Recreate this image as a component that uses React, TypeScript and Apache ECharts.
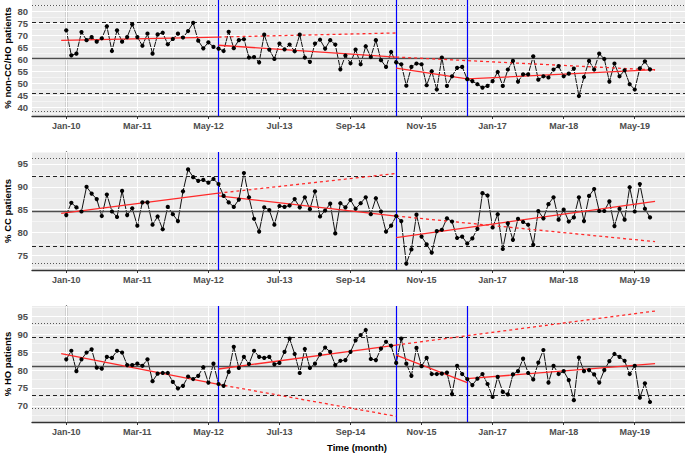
import React, { useEffect, useRef } from 'react';
import * as echarts from 'echarts';

// Month index: 0 = Jan-10
const tickMonths = [0, 14, 28, 42, 56, 70, 84, 98, 112];
const tickLabels = ['Jan-10', 'Mar-11', 'May-12', 'Jul-13', 'Sep-14', 'Nov-15', 'Jan-17', 'Mar-18', 'May-19'];
const minorXGrid = [7, 21, 35, 49, 63, 77, 91, 105, 119];

const breaksA = [30, 65, 79];
const breaksB = [30, 65];

const nonCC = [
  72.1, 61.7, 62.4, 71.4, 68.0, 69.3, 67.4, 68.8, 73.8, 63.5,
  72.1, 67.4, 69.3, 74.6, 69.3, 65.7, 70.7, 62.4, 70.4, 71.1,
  66.3, 68.5, 70.7, 69.1, 71.8, 75.2, 67.8, 64.6, 67.1, 65.2,
  64.5, 63.5, 71.5, 64.7, 68.0, 68.4, 60.8, 61.0, 58.8, 70.3,
  64.1, 60.2, 66.6, 64.2, 66.2, 63.4, 70.3, 60.8, 59.0, 66.6,
  68.2, 64.5, 68.0, 66.2, 55.9, 61.6, 58.4, 64.1, 58.0, 65.5,
  61.0, 68.0, 59.7, 56.9, 63.1, 58.8, 58.0, 49.1, 56.9, 58.3,
  58.0, 49.3, 55.1, 47.5, 60.8, 49.0, 53.0, 56.5, 56.9, 51.8,
  51.0, 49.7, 48.3, 49.0, 51.0, 54.8, 49.0, 55.8, 59.4, 50.8,
  53.8, 53.8, 61.3, 51.6, 53.0, 52.5, 55.8, 57.2, 53.0, 54.1,
  56.2, 44.8, 52.7, 59.4, 55.8, 62.4, 60.2, 50.8, 58.3, 53.0,
  55.5, 49.7, 47.5, 56.3, 59.2, 55.9,
];

const cc = [
  83.8, 86.5, 85.5, 84.6, 90.0, 88.5, 87.3, 83.6, 88.3, 84.6,
  83.4, 89.1, 83.8, 85.3, 81.5, 86.6, 86.6, 81.7, 83.5, 80.7,
  85.6, 84.0, 82.5, 89.0, 93.8, 92.1, 91.3, 91.5, 90.9, 91.7,
  90.6, 88.0, 86.6, 85.6, 87.2, 93.0, 87.7, 83.0, 80.2, 85.5,
  84.9, 81.7, 85.8, 85.6, 85.9, 87.3, 85.5, 87.7, 85.1, 89.0,
  83.5, 84.8, 86.3, 79.8, 86.4, 85.5, 87.1, 85.2, 86.4, 87.7,
  84.0, 87.5, 84.6, 80.2, 81.5, 83.6, 82.5, 73.2, 76.3, 83.9,
  79.1, 77.4, 75.6, 80.3, 80.6, 83.1, 82.4, 78.8, 79.1, 77.6,
  78.7, 80.8, 88.6, 88.1, 81.1, 84.0, 76.4, 82.0, 78.4, 83.0,
  82.3, 81.7, 77.3, 84.7, 83.1, 86.2, 87.7, 82.8, 85.0, 82.4,
  83.3, 87.7, 82.5, 88.0, 89.5, 84.7, 84.7, 86.8, 81.4, 85.2,
  82.8, 89.9, 84.6, 90.6, 85.2, 83.3,
];

const ho = [
  83.0, 85.4, 79.7, 83.0, 84.9, 85.8, 80.7, 80.4, 83.7, 83.4,
  85.4, 84.9, 81.4, 81.4, 81.8, 81.2, 83.0, 76.9, 79.0, 79.2,
  79.2, 76.7, 74.9, 75.6, 78.2, 77.5, 78.4, 80.8, 76.5, 81.8,
  76.1, 75.6, 79.5, 86.5, 80.6, 83.7, 81.7, 85.4, 83.7, 83.4,
  83.7, 81.6, 82.0, 85.1, 88.8, 84.5, 79.2, 85.9, 80.6, 81.8,
  84.4, 86.3, 85.1, 81.4, 82.6, 82.8, 85.1, 88.3, 89.8, 91.2,
  83.1, 82.8, 86.0, 87.9, 86.8, 82.0, 88.8, 81.8, 78.4, 86.2,
  81.1, 83.4, 78.9, 78.9, 79.0, 79.3, 73.3, 81.2, 78.9, 77.5,
  75.8, 77.6, 78.9, 76.1, 72.5, 78.1, 73.9, 73.2, 78.8, 79.7,
  83.2, 79.2, 77.4, 82.1, 85.6, 76.5, 81.2, 78.9, 79.7, 77.2,
  71.6, 83.5, 79.7, 80.0, 78.8, 76.5, 80.0, 82.5, 84.5, 83.7,
  82.6, 78.9, 81.2, 72.3, 76.3, 71.1,
];

// [centre, upper 2sd, lower 2sd, upper 3sd, lower 3sd]
const nonCCRefs = [60.6, 75.3, 45.9, 82.6, 38.6];
const ccRefs = [84.7, 92.3, 77.0, 96.2, 73.2];
const hoRefs = [81.2, 89.1, 73.1, 93.0, 69.3];

// fitted segments (solid) and projections (dashed): [[x0,y0],[x1,y1]]
const nonCCFits = [
  [[-1, 67.9], [30, 69.3]],
  [[30, 65.9], [65, 61.0]],
  [[65, 56.4], [79, 51.9]],
  [[79, 51.9], [116, 55.8]],
];
const nonCCProj = [
  [[30, 69.3], [65, 71.0]],
  [[65, 61.0], [116, 55.6]],
];
const ccFits = [
  [[-1, 84.2], [30, 88.6]],
  [[30, 88.0], [65, 83.6]],
  [[65, 78.9], [116, 86.8]],
];
const ccProj = [
  [[30, 88.6], [65, 92.9]],
  [[65, 83.6], [116, 78.0]],
];
const hoFits = [
  [[-1, 84.6], [30, 76.0]],
  [[30, 80.3], [65, 87.0]],
  [[65, 84.2], [79, 76.5]],
  [[79, 77.6], [116, 81.8]],
];
const hoProj = [
  [[30, 76.0], [65, 67.1]],
  [[65, 87.0], [116, 96.5]],
];

const nonCCTicks = [40, 45, 50, 55, 60, 65, 70, 75, 80];
const ccTicks = [75, 80, 85, 90, 95];
const hoTicks = [70, 75, 80, 85, 90, 95];

const FONT = 'Liberation Sans, Arial, sans-serif';

export default function App() {
  const ref = useRef<HTMLDivElement>(null);
  useEffect(() => {
    document.body.style.margin = '0';
    const chart = echarts.init(ref.current!, null, { renderer: 'svg' });

    const panels = [
      { top: 0, height: 116, yMin: 36.5, yMax: 84.7, data: nonCC, refs: nonCCRefs, fits: nonCCFits, proj: nonCCProj, breaks: breaksA, ticks: nonCCTicks, title: '% non-CC/HO patients' },
      { top: 152, height: 118, yMin: 71.8, yMax: 97.6, data: cc, refs: ccRefs, fits: ccFits, proj: ccProj, breaks: breaksB, ticks: ccTicks, title: '% CC patients' },
      { top: 306, height: 116, yMin: 65.5, yMax: 97.9, data: ho, refs: hoRefs, fits: hoFits, proj: hoProj, breaks: breaksA, ticks: hoTicks, title: '% HO patients' },
    ];

    const grids: any[] = [];
    const xAxes: any[] = [];
    const yAxes: any[] = [];
    const series: any[] = [];
    const graphics: any[] = [];
    const noLabel = { show: false };

    panels.forEach((p, i) => {
      grids.push({
        left: 32, right: 0, top: p.top, height: p.height,
        show: true, backgroundColor: '#EBEBEB', borderWidth: 0,
      });
      xAxes.push({
        type: 'value', gridIndex: i, min: -6.75, max: 121.9,
        axisLine: { show: true, onZero: false, lineStyle: { color: '#333', width: 1.3 } },
        axisTick: { show: true, length: 3, customValues: tickMonths, lineStyle: { color: '#333' } },
        axisLabel: {
          customValues: tickMonths, margin: 5,
          formatter: (v: number) => tickLabels[tickMonths.indexOf(v)] ?? '',
          color: '#4D4D4D', fontSize: 9, fontWeight: 'bold', fontFamily: FONT,
        },
        splitLine: { show: false },
      });
      yAxes.push({
        type: 'value', gridIndex: i, min: p.yMin, max: p.yMax,
        axisLine: { show: true, lineStyle: { color: '#333', width: 1.3 } },
        axisTick: { show: true, length: 3, customValues: p.ticks, lineStyle: { color: '#333' } },
        axisLabel: {
          customValues: p.ticks, margin: 4,
          color: '#4D4D4D', fontSize: 9.5, fontWeight: 'bold', fontFamily: FONT,
        },
        splitLine: { show: false },
      });

      // background grid lines
      const gridItems: any[] = [];
      const start = Math.ceil(p.yMin / 2.5) * 2.5;
      for (let v = start; v <= p.yMax; v += 2.5) {
        const major = Math.abs(v / 5 - Math.round(v / 5)) < 1e-6;
        gridItems.push({ yAxis: v, lineStyle: { color: '#FFFFFF', width: major ? 1.1 : 0.5, type: 'solid' } });
      }
      tickMonths.forEach((m) => gridItems.push({ xAxis: m, lineStyle: { color: '#FFFFFF', width: 1.1, type: 'solid' } }));
      minorXGrid.forEach((m) => gridItems.push({ xAxis: m, lineStyle: { color: '#FFFFFF', width: 0.5, type: 'solid' } }));
      series.push({
        type: 'line', xAxisIndex: i, yAxisIndex: i, data: [], z: 1, silent: true,
        markLine: { silent: true, symbol: ['none', 'none'], label: noLabel, animation: false, data: gridItems },
      });

      // reference lines
      const [c, u2, l2, u3, l3] = p.refs;
      series.push({
        type: 'line', xAxisIndex: i, yAxisIndex: i, data: [], z: 2, silent: true,
        markLine: {
          silent: true, symbol: ['none', 'none'], label: noLabel, animation: false,
          data: [
            { yAxis: c, lineStyle: { color: '#4D4D4D', width: 1.4, type: 'solid' } },
            { yAxis: u2, lineStyle: { color: '#222', width: 1, type: [4, 3] } },
            { yAxis: l2, lineStyle: { color: '#222', width: 1, type: [4, 3] } },
            { yAxis: u3, lineStyle: { color: '#555', width: 1, type: [1, 2] } },
            { yAxis: l3, lineStyle: { color: '#555', width: 1, type: [1, 2] } },
          ],
        },
      });

      // intervention lines
      series.push({
        type: 'line', xAxisIndex: i, yAxisIndex: i, data: [], z: 3, silent: true,
        markLine: {
          silent: true, symbol: ['none', 'none'], label: noLabel, animation: false,
          data: p.breaks.map((b) => ({ xAxis: b, lineStyle: { color: '#0000FF', width: 1.2, type: 'solid' } })),
        },
      });

      // data line
      series.push({
        type: 'line', xAxisIndex: i, yAxisIndex: i, z: 4,
        data: p.data.map((v, k) => [k, v]),
        symbol: 'none',
        lineStyle: { color: '#111', width: 1 },
      });
      // data points
      series.push({
        type: 'scatter', xAxisIndex: i, yAxisIndex: i, z: 6,
        data: p.data.map((v, k) => [k, v]),
        symbol: 'circle', symbolSize: 4.2,
        itemStyle: { color: '#000', opacity: 1 },
      });

      // fitted lines
      p.fits.forEach((seg) => {
        series.push({
          type: 'line', xAxisIndex: i, yAxisIndex: i, z: 5, data: seg, symbol: 'none',
          lineStyle: { color: '#FF2A2A', width: 1.3, type: 'solid' },
        });
      });
      p.proj.forEach((seg) => {
        series.push({
          type: 'line', xAxisIndex: i, yAxisIndex: i, z: 5, data: seg, symbol: 'none',
          lineStyle: { color: '#FF2A2A', width: 1.3, type: [3, 3] },
        });
      });

      graphics.push({
        type: 'text', x: 7, y: p.top + p.height / 2, rotation: Math.PI / 2,
        style: {
          text: p.title, fill: '#000', font: `bold 9.5px ${FONT}`,
          textAlign: 'center', textVerticalAlign: 'middle',
        },
      });
    });

    graphics.push({
      type: 'text', x: 357, y: 447,
      style: {
        text: 'Time (month)', fill: '#000', font: `bold 9.5px ${FONT}`,
        textAlign: 'center', textVerticalAlign: 'middle',
      },
    });

    chart.setOption({
      animation: false,
      backgroundColor: '#FFFFFF',
      grid: grids,
      xAxis: xAxes,
      yAxis: yAxes,
      series,
      graphic: graphics,
    });
    return () => chart.dispose();
  }, []);
  return <div ref={ref} style={{ width: 685, height: 454 }} />;
}
